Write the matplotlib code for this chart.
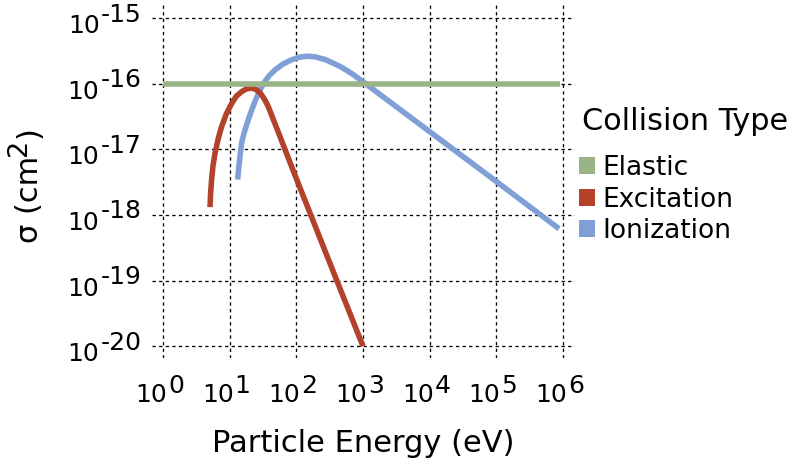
import matplotlib
matplotlib.use("Agg")
import matplotlib.pyplot as plt
from matplotlib.patches import Patch
from matplotlib.ticker import NullLocator
from matplotlib.transforms import IdentityTransform

# Data, stored as log10 values
# (energy in eV, cross section in cm^2)
elastic_log_e = [0.0, 5.955]
elastic_log_sigma = [-16.0, -16.0]

excitation_log_e = [0.705, 0.715, 0.73, 0.75, 0.78, 0.83, 0.88, 0.95, 1.03, 1.10,
                    1.18, 1.25, 1.33, 1.40, 1.47, 1.53, 1.58, 1.63, 1.73, 1.955,
                    2.205, 2.58, 3.0]
excitation_log_sigma = [-17.88, -17.65, -17.45, -17.25, -17.06, -16.83, -16.65, -16.46,
                        -16.30, -16.19, -16.12, -16.08, -16.065, -16.09, -16.155, -16.25,
                        -16.35, -16.48, -16.74, -17.33, -17.97, -18.93, -20.0]

ionization_log_e = [1.12, 1.14, 1.16, 1.185, 1.23, 1.28, 1.33, 1.38, 1.44, 1.505,
                    1.59, 1.68, 1.80, 1.93, 2.05, 2.155, 2.28, 2.43, 2.56, 2.68,
                    2.84, 3.0, 4.0, 5.0, 5.94]
ionization_log_sigma = [-17.46, -17.24, -17.06, -16.87, -16.705, -16.545, -16.40, -16.27,
                        -16.13, -16.0, -15.88, -15.79, -15.70, -15.635, -15.595, -15.58,
                        -15.59, -15.63, -15.69, -15.75, -15.85, -15.97, -16.73, -17.49,
                        -18.21]

x_ticks = [1e0, 1e1, 1e2, 1e3, 1e4, 1e5, 1e6]
x_exponents = ["0", "1", "2", "3", "4", "5", "6"]
y_ticks = [1e-15, 1e-16, 1e-17, 1e-18, 1e-19, 1e-20]
y_exponents = ["-15", "-16", "-17", "-18", "-19", "-20"]

series_names = ["Elastic", "Excitation", "Ionization"]
green = "#99B487"
red = "#B4422B"
blue = "#7F9FD6"


def unlog(vals):
    return [10 ** v for v in vals]


W, H = 792, 463
fig = plt.figure(figsize=(W / 100, H / 100), dpi=100)
ax = fig.add_axes([152 / W, 1 - 358 / H, (575 - 152) / W, (358 - 5) / H])
ax.set_xscale("log")
ax.set_yscale("log")
ax.set_xlim(10 ** -0.165, 10 ** 6.18)
ax.set_ylim(10 ** -20.18, 10 ** -14.8)

for s in ax.spines.values():
    s.set_visible(False)
ax.set_xticks(x_ticks)
ax.set_yticks(y_ticks)
ax.xaxis.set_minor_locator(NullLocator())
ax.yaxis.set_minor_locator(NullLocator())
ax.set_xticklabels([])
ax.set_yticklabels([])
ax.tick_params(which="both", length=0)
ax.set_axisbelow(True)
ax.grid(True, which="major", color="black", linestyle=(0, (2.5, 2.5)), linewidth=0.95)

# curves: ionization under excitation under elastic
ax.plot(unlog(ionization_log_e), unlog(ionization_log_sigma), color=blue, lw=4,
        solid_capstyle="butt", solid_joinstyle="round", zorder=2)
ax.plot(unlog(excitation_log_e), unlog(excitation_log_sigma), color=red, lw=4,
        solid_capstyle="butt", solid_joinstyle="round", zorder=3)
ax.plot(unlog(elastic_log_e), unlog(elastic_log_sigma), color=green, lw=4,
        solid_capstyle="butt", zorder=4)

# tick labels written as "10" + full size exponent
tick_fs = 18
for xv, ex in zip(x_ticks, x_exponents):
    e = ax.annotate(ex, xy=(xv, 0), xycoords=ax.get_xaxis_transform(),
                    xytext=(3.6, -25.4), textcoords="offset points",
                    ha="left", va="baseline", fontsize=tick_fs, annotation_clip=False)
    ax.annotate("10", xy=(0, 0), xycoords=e, xytext=(-0.7, -6.5),
                textcoords="offset points", ha="right", va="bottom",
                fontsize=tick_fs, annotation_clip=False)

for yv, ex in zip(y_ticks, y_exponents):
    e = ax.annotate(ex, xy=(0, yv), xycoords=ax.get_yaxis_transform(),
                    xytext=(-7.2, -2.5), textcoords="offset points",
                    ha="right", va="baseline", fontsize=tick_fs, annotation_clip=False)
    ax.annotate("10", xy=(0, 0), xycoords=e, xytext=(-1.2, -8.3),
                textcoords="offset points", ha="right", va="bottom",
                fontsize=tick_fs, annotation_clip=False)

fig.text(363.5 / W, 1 - 444 / H, "Particle Energy (eV)", fontsize=22,
         ha="center", va="center")

# y label built from pieces so the exponent stays large
px = IdentityTransform()
r = fig.canvas.get_renderer()
y0 = H - 243
base_x = 38
t1 = fig.text(base_x, y0, "σ (cm", rotation=90, rotation_mode="anchor",
              ha="left", va="baseline", fontsize=22, transform=px)
y1 = y0 + t1.get_window_extent(r).height
t2 = fig.text(base_x - 12, y1, "2", rotation=90, rotation_mode="anchor",
              ha="left", va="baseline", fontsize=19.5, transform=px)
y2 = y1 + t2.get_window_extent(r).height
fig.text(base_x, y2, ")", rotation=90, rotation_mode="anchor",
         ha="left", va="baseline", fontsize=22, transform=px)

# legend
fig.text(582 / W, 1 - 130 / H, "Collision Type", fontsize=21.8,
         ha="left", va="baseline")
handles = [Patch(facecolor=green, edgecolor="none"),
           Patch(facecolor=red, edgecolor="none"),
           Patch(facecolor=blue, edgecolor="none")]
fig.legend(handles, series_names, loc="upper left",
           bbox_to_anchor=(579 / W, 1 - 155 / H),
           frameon=False, fontsize=19,
           handlelength=0.6, handleheight=0.6, handletextpad=0.27,
           labelspacing=0.21, borderpad=0, borderaxespad=0)

fig.savefig("out.png", dpi=100)
